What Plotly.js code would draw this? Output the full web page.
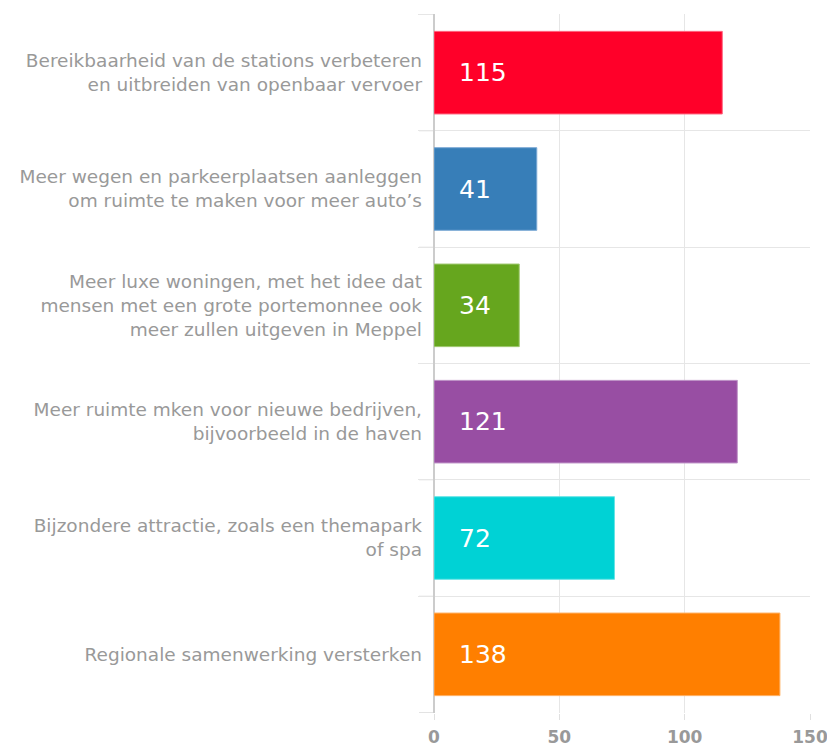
<!DOCTYPE html>
<html>
<head>
<meta charset="utf-8">
<script src="https://cdn.plot.ly/plotly-3.0.1.min.js"></script>
<style>html,body{margin:0;padding:0;background:#fff;}#chart{width:827px;height:749px;}</style>
</head>
<body>
<div id="chart"></div>
<script>
const categories = [
  "Bereikbaarheid van de stations verbeteren<br>en uitbreiden van openbaar vervoer",
  "Meer wegen en parkeerplaatsen aanleggen<br>om ruimte te maken voor meer auto’s",
  "Meer luxe woningen, met het idee dat<br>mensen met een grote portemonnee ook<br>meer zullen uitgeven in Meppel",
  "Meer ruimte mken voor nieuwe bedrijven,<br>bijvoorbeeld in de haven",
  "Bijzondere attractie, zoals een themapark<br>of spa",
  "Regionale samenwerking versterken"
];
const values = [115, 41, 34, 121, 72, 138];
const colors = ["#ff0029", "#377eb8", "#66a61e", "#984ea3", "#00d2d5", "#ff7f00"];
const lineColors = ["#ff6680", "#7aa8d4", "#a0c870", "#c096c8", "#66e4e6", "#ffb266"];
const xTicks = [0, 50, 100, 150];

const trace = {
  type: "bar",
  orientation: "h",
  y: categories,
  x: values,
  marker: { color: colors, line: { color: lineColors, width: 1 } },
  hoverinfo: "none"
};

const annotations = categories.map((c, i) => ({
  x: 0, y: c, xref: "x", yref: "y",
  text: String(values[i]),
  showarrow: false,
  xanchor: "left", yanchor: "middle",
  xshift: 23,
  font: { family: "DejaVu Sans, Verdana, sans-serif", size: 25, color: "#ffffff" }
}));

// outside tick marks on the category boundaries of the y axis
const plotWidth = 827 - 434 - 17;
const boundaryTicks = [];
for (let i = 0; i <= categories.length; i++) {
  boundaryTicks.push({
    type: "line", xref: "paper", yref: "y",
    x0: -15 / plotWidth, x1: 0, y0: i - 0.5, y1: i - 0.5,
    line: { color: "#e3e3e3", width: 1 }, layer: "below"
  });
}

const layout = {
  width: 827, height: 749,
  margin: { l: 434, r: 17, t: 14, b: 36, pad: 0 },
  paper_bgcolor: "#ffffff",
  plot_bgcolor: "#ffffff",
  showlegend: false,
  bargap: 0.29,
  font: { family: "DejaVu Sans, Verdana, sans-serif", size: 18.5, color: "#999999" },
  xaxis: {
    range: [0, 150],
    tickvals: xTicks,
    ticktext: xTicks.map(String),
    showgrid: true,
    gridcolor: "#e6e6e6",
    gridwidth: 1,
    zeroline: true,
    zerolinecolor: "#cccccc",
    zerolinewidth: 2,
    ticks: "outside",
    ticklen: 6,
    tickcolor: "#e0e0e0",
    tickwidth: 1,
    ticklabelstandoff: 3,
    ticklabeloverflow: "allow",
    showline: false,
    tickfont: { family: "DejaVu Sans, Verdana, sans-serif", size: 17, color: "#999999", weight: "bold" }
  },
  yaxis: {
    autorange: "reversed",
    type: "category",
    tickson: "boundaries",
    showgrid: true,
    gridcolor: "#e6e6e6",
    gridwidth: 1,
    ticks: "outside",
    ticklen: 15,
    tickcolor: "#e6e6e6",
    tickwidth: 1,
    ticklabelstandoff: 11,
    showline: false,
    zeroline: false,
    tickfont: { family: "DejaVu Sans, Verdana, sans-serif", size: 18.5, color: "#999999" }
  },
  shapes: boundaryTicks,
  annotations: annotations
};

Plotly.newPlot("chart", [trace], layout, { displayModeBar: false, staticPlot: true });
</script>
</body>
</html>
